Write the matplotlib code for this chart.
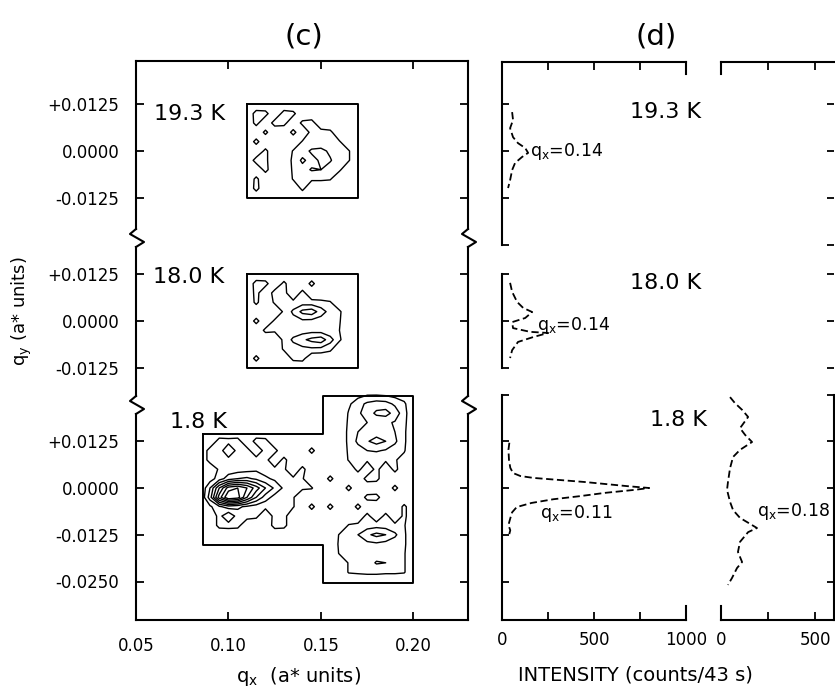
import numpy as np
import matplotlib
matplotlib.use("Agg")
import matplotlib.pyplot as plt
from matplotlib.lines import Line2D

plt.rcParams['font.family'] = ['DejaVu Sans']
plt.rcParams['mathtext.default'] = 'regular'

# ---------------- data ----------------
temps = ['19.3 K', '18.0 K', '1.8 K']

# (c) contour maps (intensity in contour-level units); rows listed from +qy (top) to -qy (bottom)
qx_box = [0.110, 0.115, 0.120, 0.125, 0.130, 0.135, 0.140, 0.145, 0.150, 0.155, 0.160, 0.165, 0.170]
qy_box = [0.0125, 0.0100, 0.0075, 0.0050, 0.0025, 0.0, -0.0025, -0.0050, -0.0075, -0.0100, -0.0125]

map_193 = [
    [0, 0,   0,   0,   0,   0,   0,   0,   0,   0,   0,   0,   0],
    [0, 1.5, 1.4, 0,   1.5, 1.3, 0,   0,   0,   0,   0,   0,   0],
    [0, 1.4, 0,   1.5, 1.4, 0,   1.3, 1.5, 0,   0,   0,   0,   0],
    [0, 0,   1.3, 0,   0,   1.4, 0,   1.4, 1.5, 1.3, 0,   0,   0],
    [0, 1.4, 0,   0,   0,   0,   1.1, 1.2, 1.3, 1.2, 1.1, 0,   0],
    [0, 0,   1.3, 0,   0,   1.1, 1.5, 2.2, 2.3, 1.8, 1.3, 1.1, 0],
    [0, 1.5, 1.3, 0,   0,   1.3, 2.2, 1.6, 2.2, 2.1, 1.4, 1.1, 0],
    [0, 0,   1.4, 0,   0,   1.2, 1.6, 2.1, 2.0, 1.5, 1.2, 0,   0],
    [0, 1.3, 0,   0,   0,   1.1, 1.2, 1.2, 1.2, 1.1, 0,   0,   0],
    [0, 1.4, 0,   0,   0,   0,   1.3, 0,   0,   0,   0,   0,   0],
    [0, 0,   0,   0,   0,   0,   0,   0,   0,   0,   0,   0,   0],
]
map_180 = [
    [0, 0,   0,   0,   0,   0,   0,   0,   0,   0,   0,   0, 0],
    [0, 1.5, 1.4, 0,   1.3, 0,   0,   1.4, 0,   0,   0,   0, 0],
    [0, 1.4, 0,   1.5, 1.4, 0,   1.4, 0,   0,   0,   0,   0, 0],
    [0, 1.3, 0,   1.2, 1.1, 1.3, 1.5, 1.4, 1.3, 1.1, 0,   0, 0],
    [0, 0,   0,   0,   1.2, 2.2, 3.3, 3.6, 2.5, 1.6, 1.2, 0, 0],
    [0, 1.4, 0,   1.2, 1.2, 1.6, 1.8, 1.7, 1.5, 1.3, 1.1, 0, 0],
    [0, 0,   1.3, 1.2, 1.3, 1.4, 1.5, 1.6, 1.5, 1.3, 1.0, 0, 0],
    [0, 0,   0,   0,   1.3, 2.2, 2.8, 3.3, 3.6, 2.4, 1.2, 0, 0],
    [0, 0,   0,   0,   1.2, 1.5, 1.7, 1.8, 1.7, 1.3, 0,   0, 0],
    [0, 1.4, 0,   0,   0,   1.3, 1.4, 0,   0,   0,   0,   0, 0],
    [0, 0,   0,   0,   0,   0,   0,   0,   0,   0,   0,   0, 0],
]

qx_18L = [0.085, 0.090, 0.095, 0.100, 0.105, 0.110, 0.115, 0.120, 0.125, 0.130, 0.135, 0.140, 0.145, 0.150]
qy_18L = [0.0150, 0.0125, 0.0100, 0.0075, 0.0050, 0.0025, 0.0, -0.0025, -0.0050, -0.0075, -0.0100, -0.0125, -0.0150]
map_18L = [
    [0, 0,   0,   0,   0,   0,   0,   0,   0,   0,   0,   0,   0,   0],
    [0, 0,   1.5, 1.4, 1.5, 0,   1.5, 1.4, 0,   0,   0,   0,   0,   0],
    [0, 1.5, 1.6, 0,   1.4, 1.5, 0,   1.5, 1.4, 0,   0,   0,   1.4, 0],
    [0, 1.5, 1.6, 1.4, 1.5, 1.3, 1.5, 1.4, 0,   1.4, 0,   0,   0,   0],
    [0, 0,   1.2, 1.4, 1.5, 1.6, 1.8, 1.5, 1.3, 1.2, 0,   1.4, 0,   0],
    [0, 0.5, 1.5, 2.5, 3.0, 3.2, 2.8, 2.2, 1.8, 1.5, 1.2, 1.1, 0,   0],
    [0, 2.0, 5.0, 7.5, 8.0, 7.0, 5.5, 4.0, 2.8, 1.8, 1.3, 1.2, 1.1, 0],
    [0, 2.5, 6.5, 9.0, 8.5, 6.0, 4.0, 2.5, 1.6, 1.2, 1.1, 0,   0,   0],
    [0, 0.8, 1.8, 2.5, 2.2, 1.8, 1.5, 1.3, 1.4, 1.2, 1.1, 0,   1.4, 0],
    [0, 0,   1.4, 0,   1.5, 1.5, 1.3, 0,   1.4, 1.4, 0,   0,   0,   0],
    [0, 0,   1.4, 1.5, 1.4, 0,   0,   0,   1.5, 1.4, 0,   0,   0,   0],
    [0, 0,   0,   0,   0,   0,   0,   0,   0,   0,   0,   0,   0,   0],
    [0, 0,   0,   0,   0,   0,   0,   0,   0,   0,   0,   0,   0,   0],
]

qx_18R = [0.150, 0.155, 0.160, 0.165, 0.170, 0.175, 0.180, 0.185, 0.190, 0.195, 0.200]
qy_18R = [0.0250, 0.0225, 0.0200, 0.0175, 0.0150, 0.0125, 0.0100, 0.0075, 0.0050, 0.0025, 0.0,
          -0.0025, -0.0050, -0.0075, -0.0100, -0.0125, -0.0150, -0.0175, -0.0200, -0.0225, -0.0250]
map_18R = [
    [0, 0,   0,   0,   0.6, 0.9, 0.9, 0.8, 0.6, 0.4, 0],
    [0, 0,   0,   0.8, 1.6, 2.2, 2.5, 2.4, 1.8, 1.2, 0],
    [0, 0,   0,   1.1, 1.8, 2.5, 3.2, 3.4, 2.6, 1.4, 0],
    [0, 0,   0,   1.2, 1.6, 2.0, 2.3, 2.2, 1.9, 1.3, 0],
    [0, 0,   0,   1.3, 2.0, 2.4, 2.5, 2.3, 2.0, 1.2, 0],
    [0, 0,   0,   1.3, 2.2, 2.9, 3.4, 3.0, 2.2, 1.2, 0],
    [0, 0,   0,   1.2, 1.6, 2.0, 2.1, 1.9, 1.5, 1.1, 0],
    [0, 0,   0,   1.1, 1.3, 1.2, 1.3, 1.2, 1.1, 0.6, 0],
    [0, 0,   0,   0,   1.4, 0,   1.4, 0,   1.4, 0,   0],
    [0, 1.4, 0,   0,   0,   1.5, 1.4, 0,   0,   0,   0],
    [0, 0,   0,   1.4, 0,   0,   0,   0,   1.4, 0,   0],
    [0, 0,   0,   0,   0,   1.4, 1.5, 0,   0,   0,   0],
    [0, 1.4, 0,   0,   1.4, 0,   0,   0,   0,   1.3, 0],
    [0, 0,   0,   0,   0,   1.4, 0,   1.4, 0,   1.3, 0],
    [0, 0,   0,   1.1, 1.3, 1.5, 1.6, 1.5, 1.3, 1.1, 0],
    [0, 0,   1.1, 1.3, 2.0, 2.8, 3.3, 3.0, 2.2, 1.2, 0],
    [0, 0,   1.2, 1.3, 1.5, 1.7, 1.8, 1.6, 1.4, 1.2, 0],
    [0, 0,   1.1, 1.2, 1.3, 1.4, 1.5, 1.4, 1.3, 1.1, 0],
    [0, 0,   0,   1.1, 1.2, 1.5, 2.1, 2.0, 1.6, 1.1, 0],
    [0, 0,   0,   1.1, 1.2, 1.3, 1.3, 1.2, 1.2, 1.1, 0],
    [0, 0,   0,   0,   0,   0,   0,   0,   0,   0,   0],
]
levels_193 = [1, 2]
levels_180 = [1, 2, 3]
levels_18 = [1, 2, 3, 4, 5, 6, 7, 8]

# measured regions
box_qx = [0.110, 0.170, 0.170, 0.110, 0.110]
box_qy = [0.0125, 0.0125, -0.0125, -0.0125, 0.0125]
reg18_qx = [0.086, 0.151, 0.151, 0.200, 0.200, 0.151, 0.151, 0.086, 0.086]
reg18_qy = [0.0145, 0.0145, 0.0245, 0.0245, -0.0255, -0.0255, -0.0152, -0.0152, 0.0145]

# (d) intensity profiles along qy
qy_p193 = [0.0104, 0.0083, 0.0061, 0.0037, 0.0021, 0.0008, -0.0005, -0.0016, -0.0032, -0.0051, -0.0078, -0.0099]
I_p193 = [55, 60, 44, 60, 87, 126, 142, 109, 71, 55, 44, 33]
qy_p180 = [0.0102, 0.0078, 0.0051, 0.0035, 0.0024, 0.0008, -0.0003, -0.0019, -0.0029, -0.0032, -0.0043,
           -0.0056, -0.0078, -0.0099]
I_p180 = [44, 55, 82, 115, 164, 126, 55, 60, 153, 251, 169, 87, 55, 44]
qy_p011 = [0.0121, 0.0102, 0.0075, 0.0054, 0.0040, 0.0032, 0.0027, 0.0016, 0.0005, 0.0, -0.0005, -0.0013,
           -0.0022, -0.0030, -0.0040, -0.0051, -0.0065, -0.0081, -0.0099, -0.0113, -0.0132]
I_p011 = [40, 35, 38, 45, 60, 100, 170, 450, 680, 800, 720, 560, 420, 280, 160, 80, 55, 45, 35, 45, 35]
qy_p018 = [0.0243, 0.0227, 0.0209, 0.0190, 0.0160, 0.0142, 0.0123, 0.0102, 0.0083, 0.0053, 0.0016, -0.0005,
           -0.0037, -0.0059, -0.0080, -0.0091, -0.0107, -0.0118, -0.0144, -0.0171, -0.0198, -0.0214,
           -0.0241, -0.0259]
I_p018 = [48, 74, 112, 144, 101, 128, 165, 101, 64, 48, 37, 32, 48, 64, 101, 138, 191, 144, 101, 90, 112,
          85, 58, 37]

xticks_c = [0.05, 0.10, 0.15, 0.20]
xtick_labels_c = ['0.05', '0.10', '0.15', '0.20']
yticks_3 = [0.0125, 0.0, -0.0125]
yticks_4 = [0.0125, 0.0, -0.0125, -0.025]
ytick_labels_3 = ['+0.0125', '0.0000', '-0.0125']
ytick_labels_4 = ['+0.0125', '0.0000', '-0.0125', '-0.0250']
xticks_d1 = [0, 250, 500, 750, 1000]
xtick_labels_d1 = ['0', '', '500', '', '1000']
xticks_d2 = [0, 250, 500]
xtick_labels_d2 = ['0', '', '500']

# ---------------- layout ----------------
W, H = 835, 692
fig = plt.figure(figsize=(W / 100, H / 100), dpi=100)
S = 3740.0  # pixels per a* unit along qy
LW = 1.5


def q_of(y, zero):
    return (zero - y) / S


def px_axes(x0, x1, ytop, ybot, zero, xlim):
    ax = fig.add_axes([x0 / W, 1 - ybot / H, (x1 - x0) / W, (ybot - ytop) / H])
    ax.set_ylim(q_of(ybot, zero), q_of(ytop, zero))
    ax.set_xlim(*xlim)
    ax.patch.set_alpha(0)
    for s in ax.spines.values():
        s.set_linewidth(LW)
    ax.tick_params(direction='in', width=1.3, length=6, labelsize=12, colors='k')
    return ax


def ftext(x, y, s, **kw):
    fig.text(x / W, 1 - y / H, s, **kw)


# ---- panel (c)
# (axes top, axes bottom, zero row, spine top, spine bottom)
c_rows = [(61, 238, 151, 61, 229), (238, 405, 321, 247, 396), (390, 620, 488, 414, 620)]
cx0, cx1 = 136, 468
xlim_c = (0.05, 0.2295)
axc = []
for i, (yt, yb, z, st, sb) in enumerate(c_rows):
    ax = px_axes(cx0, cx1, yt, yb, z, xlim_c)
    axc.append(ax)
    for side in ('left', 'right'):
        ax.spines[side].set_bounds(q_of(sb, z), q_of(st, z))
    if i != 0:
        ax.spines['top'].set_visible(False)
    if i != 2:
        ax.spines['bottom'].set_visible(False)
    ax.set_xticks(xticks_c)
    if i == 2:
        ax.set_yticks(yticks_4)
        ax.set_yticklabels(ytick_labels_4)
        ax.set_xticklabels(xtick_labels_c)
    else:
        ax.set_yticks(yticks_3)
        ax.set_yticklabels(ytick_labels_3)
    ax.tick_params(axis='y', left=True, right=True, pad=12)
    ax.tick_params(axis='x', top=(i == 0), bottom=(i == 2), labelbottom=(i == 2), pad=12)

# zigzag break marks
for yb in (238, 405):
    for xs in (cx0, cx1):
        xx = [xs, xs - 6, xs + 8, xs]
        yy = [yb - 9, yb - 4, yb + 4, yb + 9]
        fig.add_artist(Line2D([v / W for v in xx], [1 - v / H for v in yy],
                              transform=fig.transFigure, color='k', lw=LW))

ck = dict(colors='k', linewidths=1.0)
axc[0].contour(qx_box, qy_box[::-1], np.array(map_193)[::-1], levels=levels_193, **ck)
axc[0].plot(box_qx, box_qy, color='k', lw=1.4)
axc[1].contour(qx_box, qy_box[::-1], np.array(map_180)[::-1], levels=levels_180, **ck)
axc[1].plot(box_qx, box_qy, color='k', lw=1.4)
axc[2].contour(qx_18L, qy_18L[::-1], np.array(map_18L)[::-1], levels=levels_18, **ck)
axc[2].contour(qx_18R, qy_18R[::-1], np.array(map_18R)[::-1], levels=levels_18, **ck)
axc[2].plot(reg18_qx, reg18_qy, color='k', lw=1.4)

# ---- panel (d)
d_rows = [(62, 244.5, 151), (274.25, 367.75, 321), (394.5, 620, 488)]
d1 = (502, 686, (0, 1000))
d2 = (721, 834, (0, 600))
ls_prof = dict(color='k', lw=1.3, ls=(0, (4, 2)))
profiles1 = [(I_p193, qy_p193), (I_p180, qy_p180), (I_p011, qy_p011)]
for i, (yt, yb, z) in enumerate(d_rows):
    a1 = px_axes(d1[0], d1[1], yt, yb, z, d1[2])
    a2 = px_axes(d2[0], d2[1], yt, yb, z, d2[2])
    lo, hi = q_of(yb, z), q_of(yt, z)
    yt_list = [v for v in (0.025, 0.0125, 0.0, -0.0125, -0.025) if lo - 1e-6 <= v <= hi + 1e-6]
    for a in (a1, a2):
        a.set_yticks(yt_list)
        a.set_yticklabels([])
        a.tick_params(axis='y', length=5)
    a1.tick_params(axis='y', left=True, right=False)
    a2.tick_params(axis='y', left=False, right=True)
    # col 1 spines
    a1.spines['bottom'].set_visible(i == 2)
    a1.spines['top'].set_visible(i == 0)
    if i == 0:
        a1.spines['right'].set_bounds(q_of(yt + 12, z), hi)
    elif i == 2:
        a1.spines['right'].set_bounds(lo, q_of(yb - 14, z))
    else:
        a1.spines['right'].set_visible(False)
    # col 2 spines
    a2.spines['bottom'].set_visible(i == 2)
    a2.spines['top'].set_visible(i == 0)
    a2.spines['right'].set_visible(i == 2)
    if i == 0:
        a2.spines['left'].set_bounds(q_of(yt + 12, z), hi)
    elif i == 2:
        a2.spines['left'].set_bounds(lo, q_of(yb - 14, z))
    else:
        a2.spines['left'].set_visible(False)
    a1.set_xticks(xticks_d1)
    a2.set_xticks(xticks_d2)
    if i == 2:
        a1.set_xticklabels(xtick_labels_d1)
        a2.set_xticklabels(xtick_labels_d2)
    else:
        a1.set_xticklabels([])
        a2.set_xticklabels([])
    a1.tick_params(axis='x', top=(i == 0), bottom=(i == 2), labelsize=12, pad=8, length=6)
    a2.tick_params(axis='x', top=(i == 0), bottom=(i == 2), labelsize=12, pad=8, length=6)
    I, q = profiles1[i]
    a1.plot(I, q, **ls_prof)
    if i == 2:
        a2.plot(I_p018, qy_p018, **ls_prof)

# ---------------- texts ----------------
ftext(304, 37, '(c)', fontsize=21, ha='center', va='center')
ftext(656, 36, '(d)', fontsize=21, ha='center', va='center')
for (x, y), t in zip([(154, 114), (153, 277), (170, 422)], temps):
    ftext(x, y, t, fontsize=16, ha='left', va='center')
for (x, y), t in zip([(630, 112), (630, 283), (650, 420)], temps):
    ftext(x, y, t, fontsize=16, ha='left', va='center')
ftext(530, 152, r'$q_x$=0.14', fontsize=12.5, ha='left', va='center')
ftext(537, 325, r'$q_x$=0.14', fontsize=12.5, ha='left', va='center')
ftext(540, 513, r'$q_x$=0.11', fontsize=12.5, ha='left', va='center')
ftext(757, 512, r'$q_x$=0.18', fontsize=12.5, ha='left', va='center')
ftext(299, 677, r'$q_x$  (a* units)', fontsize=14, ha='center', va='center')
ftext(22, 311, r'$q_y$ (a* units)', fontsize=13, ha='center', va='center', rotation=90)
ftext(635, 675, 'INTENSITY (counts/43 s)', fontsize=14, ha='center', va='center')

fig.savefig('out.png', dpi=100)
